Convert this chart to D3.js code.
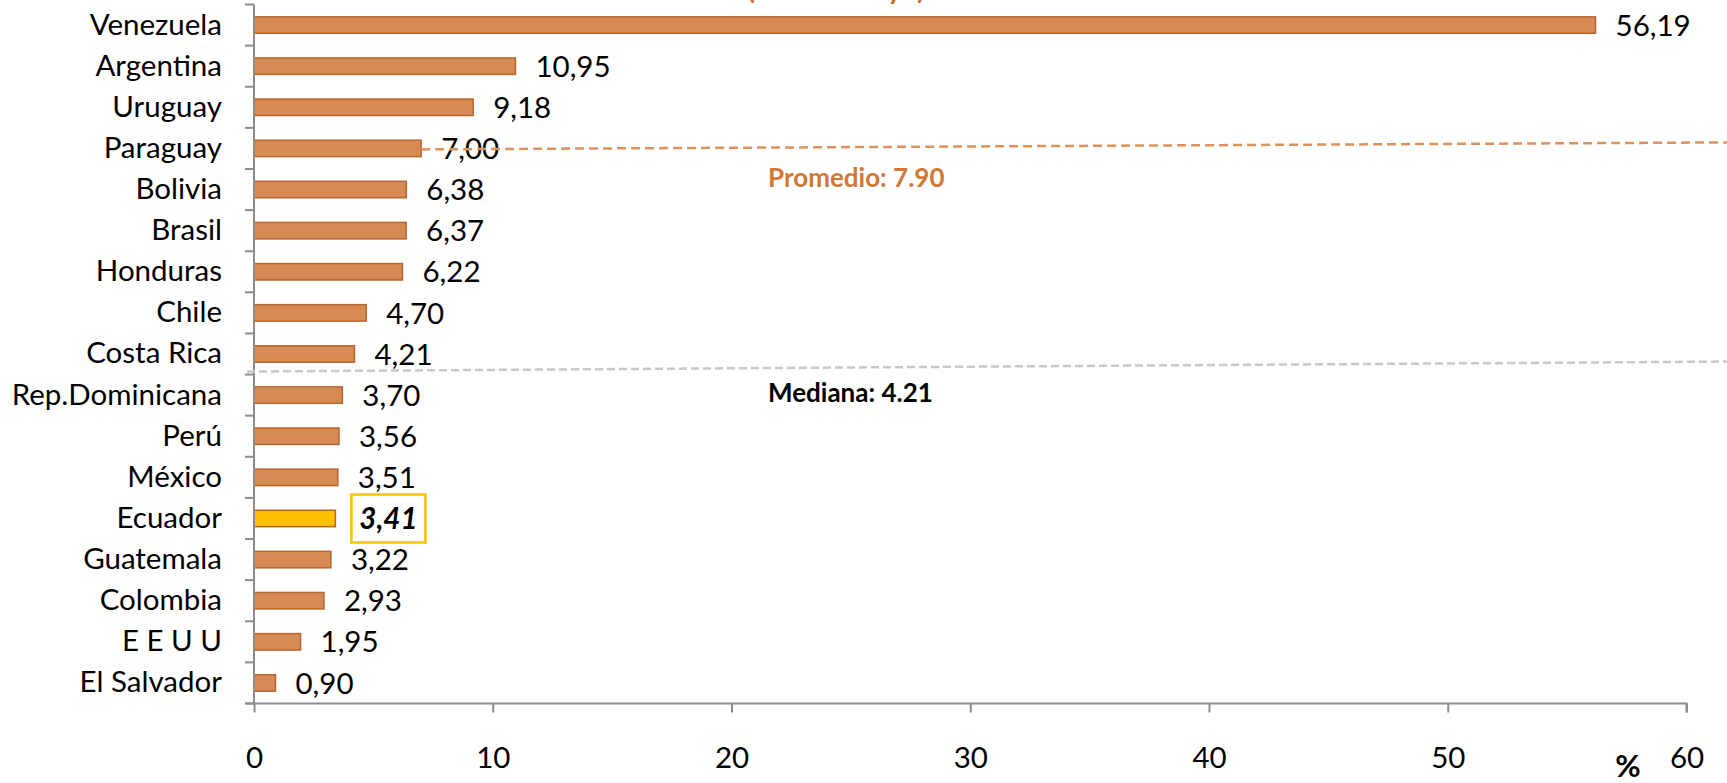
<!DOCTYPE html>
<html>
<head>
<meta charset="utf-8">
<script src="https://cdn.jsdelivr.net/npm/d3@7"></script>
<style>
  body { margin: 0; background: #fff; }
  svg { display: block; font-family: Lato, "Open Sans", sans-serif; }
</style>
</head>
<body>
<svg width="1727" height="783"></svg>
<script>
// data
var countries = ["Venezuela", "Argentina", "Uruguay", "Paraguay", "Bolivia", "Brasil", "Honduras", "Chile",
  "Costa Rica", "Rep.Dominicana", "Perú", "México", "Ecuador", "Guatemala", "Colombia", "E E U U", "El Salvador"];
var values = [56.19, 10.95, 9.18, 7.00, 6.38, 6.37, 6.22, 4.70, 4.21, 3.70, 3.56, 3.51, 3.41, 3.22, 2.93, 1.95, 0.90];
var xTicks = [0, 10, 20, 30, 40, 50, 60];
var highlight = "Ecuador";
var promedio = 7.90, mediana = 4.21;
var title = "(enero - mayo)";

var fmt = function(v) { return v.toFixed(2).replace(".", ","); };

var svg = d3.select("svg"),
  W = +svg.attr("width"),
  margin = {top: 4.5, left: 254, right: 40.5, bottom: 79.5},
  width = W - margin.left - margin.right,
  height = +svg.attr("height") - margin.top - margin.bottom,
  g = svg.append("g").attr("transform", "translate(" + margin.left + "," + margin.top + ")");

var x = d3.scaleLinear().domain([0, 60]).range([0, width]);
var y = d3.scaleBand().domain(countries).range([0, height]).paddingInner(0.6).paddingOuter(0.3);

var axisColor = "#8c8c8c";
var fontSize = "29.5px";

// title, mostly cut off at the top (as in the original)
svg.append("text")
    .attr("x", 836).attr("y", -1)
    .attr("text-anchor", "middle")
    .attr("fill", "#c5702c")
    .style("font-size", "28px").style("font-weight", "bold")
    .text(title);

// bars
g.selectAll(".bar")
  .data(countries)
  .enter().append("rect")
    .attr("class", "bar")
    .attr("x", 0)
    .attr("y", function(d) { return y(d); })
    .attr("width", function(d, i) { return x(values[i]); })
    .attr("height", y.bandwidth())
    .attr("fill", function(d) { return d == highlight ? "#ffc000" : "#d68b55"; })
    .attr("stroke", "#b8652c")
    .attr("stroke-width", 1.5);

// value labels
g.selectAll(".val")
  .data(countries)
  .enter().append("text")
    .attr("class", "val")
    .attr("x", function(d, i) { return x(values[i]) + (d == highlight ? 53 : 20); })
    .attr("y", function(d) { return y(d) + y.bandwidth() / 2; })
    .attr("dy", "0.36em")
    .attr("fill", "#000")
    .style("font-size", fontSize)
    .style("font-weight", function(d) { return d == highlight ? "bold" : null; })
    .style("font-style", function(d) { return d == highlight ? "italic" : null; })
    .attr("text-anchor", function(d) { return d == highlight ? "middle" : "start"; })
    .text(function(d, i) { return fmt(values[i]); });

// box round the highlighted label
var hi = countries.indexOf(highlight);
g.append("rect")
    .attr("x", x(values[hi]) + 16)
    .attr("y", y(highlight) + y.bandwidth() / 2 - 24)
    .attr("width", 74)
    .attr("height", 48)
    .attr("fill", "none")
    .attr("stroke", "#ffc000")
    .attr("stroke-width", 2.5);

// y axis
var step = y.step();
g.append("line")
    .attr("x1", 0).attr("x2", 0).attr("y1", 0).attr("y2", height)
    .attr("stroke", axisColor).attr("stroke-width", 2);
g.selectAll(".ytick")
  .data(d3.range(countries.length + 1))
  .enter().append("line")
    .attr("class", "ytick")
    .attr("x1", -9).attr("x2", 0)
    .attr("y1", function(i) { return i * step; })
    .attr("y2", function(i) { return i * step; })
    .attr("stroke", axisColor).attr("stroke-width", 2);

g.append("g")
    .call(d3.axisLeft(y).tickSize(0).tickPadding(32))
    .call(function(s) { s.select(".domain").remove(); })
    .selectAll("text")
    .style("font-size", fontSize)
    .style("font-family", "Lato, 'Open Sans', sans-serif")
    .attr("fill", "#000");

// x axis
g.append("g")
    .attr("transform", "translate(0," + height + ")")
    .call(d3.axisBottom(x).tickValues(xTicks).tickSize(9).tickPadding(35).tickFormat(d3.format("d")))
    .call(function(s) {
      s.select(".domain").attr("stroke", axisColor).attr("stroke-width", 2).attr("d", "M-9,0H" + width + "V9");
      s.selectAll(".tick line").attr("stroke", axisColor).attr("stroke-width", 2);
      s.selectAll("text").style("font-size", fontSize).style("font-family", "Lato, 'Open Sans', sans-serif").attr("fill", "#000");
    });

svg.append("text")
    .attr("x", 1628).attr("y", 777)
    .attr("text-anchor", "middle")
    .style("font-size", "31px").style("font-weight", "bold")
    .text("%");

// promedio line, starting at the Paraguay bar end
var pi = countries.indexOf("Paraguay");
var py = margin.top + y("Paraguay") + y.bandwidth() / 2 + 1;
svg.append("line")
    .attr("x1", margin.left + x(values[pi])).attr("y1", py)
    .attr("x2", W).attr("y2", py - 7)
    .attr("stroke", "#dc925c").attr("stroke-width", 2.5)
    .attr("stroke-dasharray", "9,5");
svg.append("text")
    .attr("x", 768).attr("y", 178)
    .attr("dy", "0.35em")
    .attr("fill", "#d07835")
    .style("font-size", "26px").style("font-weight", "bold")
    .text("Promedio: " + promedio.toFixed(2));

// mediana line, between Costa Rica and Rep.Dominicana
var mi = countries.indexOf("Costa Rica");
var my = margin.top + (mi + 1) * step - 3;
svg.append("line")
    .attr("x1", margin.left - 7).attr("y1", my)
    .attr("x2", W).attr("y2", my - 10)
    .attr("stroke", "#c8c8c8").attr("stroke-width", 2.5)
    .attr("stroke-dasharray", "8,4");
svg.append("text")
    .attr("x", 768).attr("y", 393)
    .attr("dy", "0.35em")
    .attr("fill", "#000")
    .style("font-size", "26px").style("font-weight", "bold")
    .text("Mediana: " + mediana.toFixed(2));
</script>
</body>
</html>
